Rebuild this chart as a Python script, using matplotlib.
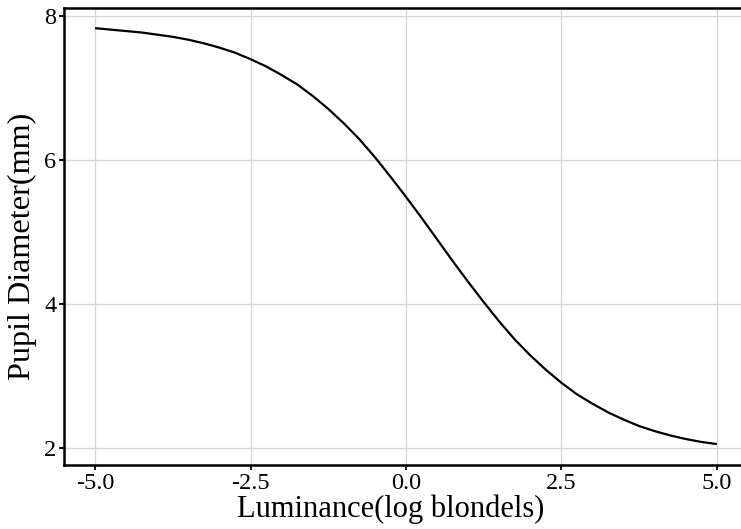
import matplotlib
matplotlib.use("Agg")
import matplotlib.pyplot as plt

# Pupil diameter (0.25 log-blondel steps)
luminance = [-5.0, -4.75, -4.5, -4.25, -4.0, -3.75, -3.5, -3.25, -3.0, -2.75,
             -2.5, -2.25, -2.0, -1.75, -1.5, -1.25, -1.0, -0.75, -0.5, -0.25,
             0.0, 0.25, 0.5, 0.75, 1.0, 1.25, 1.5, 1.75, 2.0, 2.25,
             2.5, 2.75, 3.0, 3.25, 3.5, 3.75, 4.0, 4.25, 4.5, 4.75, 5.0]
diameter = [7.83, 7.81, 7.79, 7.77, 7.74, 7.71, 7.67, 7.62, 7.56, 7.49,
            7.40, 7.30, 7.18, 7.05, 6.89, 6.71, 6.51, 6.29, 6.04, 5.77,
            5.49, 5.20, 4.90, 4.60, 4.31, 4.03, 3.76, 3.51, 3.29, 3.09,
            2.91, 2.75, 2.62, 2.50, 2.40, 2.31, 2.24, 2.18, 2.13, 2.09, 2.06]
x_ticks = [-5.0, -2.5, 0.0, 2.5, 5.0]
x_tick_labels = ["-5.0", "-2.5", "0.0", "2.5", "5.0"]
y_ticks = [2, 4, 6, 8]
y_tick_labels = ["2", "4", "6", "8"]

plt.rcParams["font.family"] = ["Liberation Serif", "DejaVu Serif"]

fig = plt.figure(figsize=(7.41, 5.29), dpi=100)
ax = fig.add_axes([64 / 741, 64 / 529, 684 / 741, 457 / 529])

ax.plot(luminance, diameter, color="black", lw=1.6, solid_capstyle="butt", zorder=3)

ax.set_xlim(-5.5, 5.5)
ax.set_ylim(1.77, 8.11)
ax.set_xticks(x_ticks)
ax.set_xticklabels(x_tick_labels)
ax.set_yticks(y_ticks)
ax.set_yticklabels(y_tick_labels)
ax.grid(True, color="#d4d4d4", lw=0.9)
ax.set_axisbelow(True)

for side in ["left", "bottom", "top"]:
    ax.spines[side].set_linewidth(1.8)
    ax.spines[side].set_color("black")
ax.spines["right"].set_visible(False)

ax.tick_params(axis="both", length=3.5, width=1.3, color="black",
               labelsize=17.5, labelcolor="black", pad=2)

ax.set_xlabel("Luminance(log blondels)", fontsize=22)
ax.set_ylabel("Pupil Diameter(mm)", fontsize=23.2)
ax.xaxis.set_label_coords((391 - 64) / 684, (465 - 495) / 457)
ax.yaxis.set_label_coords((37 - 64) / 684, (465 - 246) / 457)

fig.savefig("out.png", dpi=100)
